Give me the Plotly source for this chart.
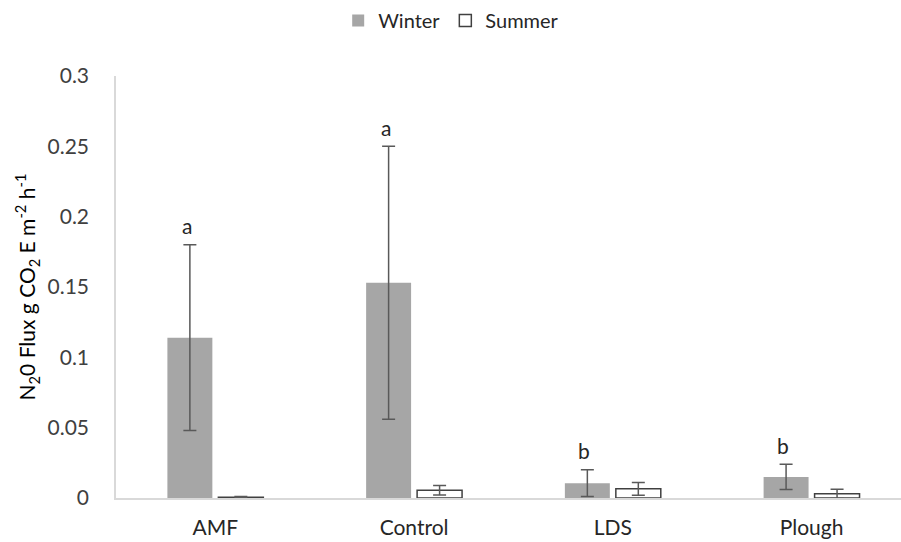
import plotly.graph_objects as go

categories = ["AMF", "Control", "LDS", "Plough"]
winter = [0.114, 0.153, 0.0105, 0.015]
winter_err = [0.066, 0.097, 0.0095, 0.009]
summer = [0.0005, 0.0055, 0.0065, 0.003]
summer_err = [0.0005, 0.0033, 0.0045, 0.0033]
letters = ["a", "a", "b", "b"]
y_ticks = [0, 0.05, 0.1, 0.15, 0.2, 0.25, 0.3]
y_tick_labels = ["0", "0.05", "0.1", "0.15", "0.2", "0.25", "0.3"]

FONT = "Lato, 'Open Sans', sans-serif"
ERR_COLOR = "#595959"

fig = go.Figure()
fig.add_trace(go.Bar(
    name="Winter", x=categories, y=winter,
    marker=dict(color="#a6a6a6", line=dict(color="#a6a6a6", width=0)),
    error_y=dict(type="data", array=winter_err, visible=True,
                 color=ERR_COLOR, thickness=1.5, width=6.5),
))
fig.add_trace(go.Bar(
    name="Summer", x=categories, y=summer,
    marker=dict(color="white", line=dict(color="#404040", width=1.5)),
    error_y=dict(type="data", array=summer_err, visible=True,
                 color=ERR_COLOR, thickness=1.5, width=6.5),
))

for c, v, e, t in zip(categories, winter, winter_err, letters):
    fig.add_annotation(x=c, y=v + e, text=t, showarrow=False,
                       xshift=-28.5, yshift=19, yanchor="middle",
                       font=dict(family=FONT, size=21, color="#262626"))

fig.update_layout(
    width=901, height=542,
    margin=dict(l=116, r=0, t=76, b=44),
    paper_bgcolor="white", plot_bgcolor="white",
    barmode="group", bargap=0.487, bargroupgap=0.118,
    font=dict(family=FONT, size=20, color="#262626"),
    legend=dict(orientation="h", x=0.427, xanchor="center", y=0.998,
                yref="container", yanchor="top",
                font=dict(family=FONT, size=20, color="#262626"),
                itemwidth=30, traceorder="normal"),
    xaxis=dict(range=[-0.5, 3.45], showline=True, linecolor="#d9d9d9",
               linewidth=1.5, ticks="", showgrid=False,
               ticklabelstandoff=10,
               tickfont=dict(family=FONT, size=21, color="#262626")),
    yaxis=dict(range=[0, 0.3], tickvals=y_ticks, ticktext=y_tick_labels,
               showline=True, linecolor="#d9d9d9", linewidth=1.5,
               showgrid=False, zeroline=False, ticks="",
               ticklabelstandoff=21,
               tickfont=dict(family=FONT, size=21, color="#404040"),
               title=dict(text="N<sub>2</sub>0 Flux g CO<sub>2</sub> E m<sup>-2</sup> h<sup>-1</sup>",
                          font=dict(family=FONT, size=21, color="#000000"),
                          standoff=6)),
)

fig.write_html("out.html")
